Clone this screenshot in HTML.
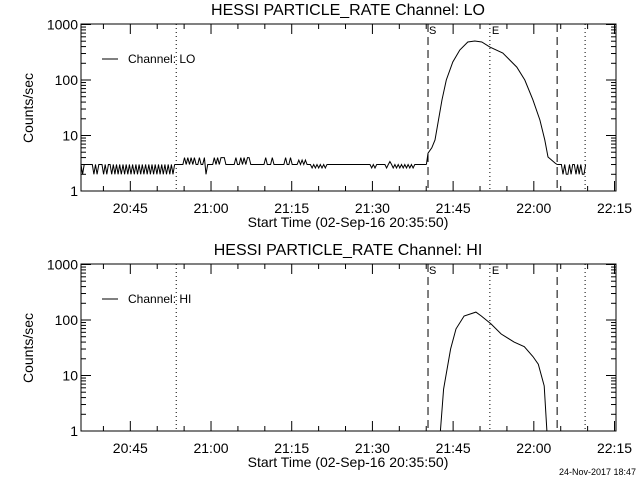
<!DOCTYPE html>
<html><head><meta charset="utf-8"><style>
body{margin:0;background:#fff}
svg text{font-family:"Liberation Sans",sans-serif;fill:#000}
</style></head><body>
<svg id="c" width="640" height="480" xmlns="http://www.w3.org/2000/svg"></svg>
<script>
// time in minutes since 20:35:50
const xTickLabels=["20:45","21:00","21:15","21:30","21:45","22:00","22:15"];
const xTickMinutes=[9.167,24.167,39.167,54.167,69.167,84.167,99.167];
const yTickValues=[1,10,100,1000];
const yTickLabels=["1","10","100","1000"];
const markerDotted=[17.7,76.0,93.7];
const markerDashed=[64.5,88.5];
const bgStep=0.3;
const loBg1=[3,2,3,3,3,3,3,3,2,3,2,3,3,3,2,3,2,3,3,2,3,2,3,2,3,2,3,2,3,2,3,2,3,2,3,2,3,2,3,2,3,2,3,2,3,2,3,2,3,2,3,2,3,2,3,2,3,2,3];
const loBg2=[3,3,3,3,3,4,3,4,3,4,3,4,3,3,4,3,3,4,2,3,3,3,3,4,3,4,3,4,4,4,3,3,3,3,3,3,4,3,3,4,3,4,3,4,4,3,3,3,3,3,3,3,3,3,4,3,3,3,4,3,3,3,3,3,
3,3,4,3,3,4,3,3,3,3,3.6,3,3.6,3,3.6,3,3,3,2.6,3,2.6,3,2.6,3,2.6,3,2.6,3,3,3,3,3,3,3,3,3,3,3,3,3,3,3,3,3,3,3,3,3,3,3,3,3,
3,3,2.6,3,2.6,3,3,3,3,3,3,2.6,3,3.4,3,2.6,3,2.6,3,2.6,3,2.6,3,2.6,3,2.6,3,2.6,3,3,3,3,3,3,3,3];
const loBg2Start=17.7;
const loFlareT=[64.5,65.2,65.8,67.1,67.9,69.1,70.4,71.9,73.2,74.5,76.0,78.4,81.0,82.5,84.0,85.3,86.2,86.8,88.1,88.5];
const loFlareV=[4.8,6.0,8.3,44,100,211,347,484,505,484,391,307,171,100,44,19,8.3,4.1,3.2,3];
const loBg3Start=88.7;
const loBg3=[3,3,3,2,3,2,2,3,2,3,3,2,3,2,3,2,2,3];
const hiFlareT=[66.8,67.4,68.7,69.7,71.2,73.4,74.4,76.2,78.1,80.5,82.4,84.0,85.0,86.1,86.6];
const hiFlareV=[1,5.7,30,69,118,139,118,85,56,40,33,22,16,6.5,1];

const svg=document.getElementById('c');
const NS='http://www.w3.org/2000/svg';
const X0=81,X1=616,PPM=5.38,DEC=55.5;
function sx(t){return X0+t*PPM;}
function mk(tag,attrs,name){const e=document.createElementNS(NS,tag);for(const k in attrs)e.setAttribute(k,attrs[k]);


svg.appendChild(e);return e;}
function txt(x,y,s,name,anchor,size,rot){const e=mk('text',{x:x,y:y,'font-size':size||13,'text-anchor':anchor||'start'},name);if(rot)e.setAttribute('transform',rot);e.textContent=s;return e;}

function panel(top,ch,series,pfx){
  const bot=top+167;
  const sy=v=>bot-Math.log10(v)*DEC;
  txt(348,top-9,'HESSI PARTICLE_RATE Channel: '+ch,pfx+'-title','middle',16);
  mk('rect',{x:X0,y:top,width:X1-X0,height:bot-top,fill:'none',stroke:'#000','stroke-width':1},pfx+'-plot-frame');
  yTickValues.forEach((v,i)=>{const y=sy(v);
    mk('line',{x1:X0,y1:y,x2:X0+10,y2:y,stroke:'#000'},pfx+'-y-tick');
    mk('line',{x1:X1-10,y1:y,x2:X1,y2:y,stroke:'#000'},pfx+'-y-tick-right');
    txt(X0-3,y+5,yTickLabels[i],pfx+'-y-tick-label','end',14);
    if(i<yTickValues.length-1)for(let m=2;m<10;m++){const ym=sy(v*m);
      mk('line',{x1:X0,y1:ym,x2:X0+5,y2:ym,stroke:'#000'},pfx+'-y-minor-tick');
      mk('line',{x1:X1-5,y1:ym,x2:X1,y2:ym,stroke:'#000'},pfx+'-y-minor-tick-right');}
  });
  for(let t=4.167;t<100;t+=5){const x=sx(t);if(x>X1)break;
    const major=xTickMinutes.some(m=>Math.abs(m-t)<0.1);const L=major?10:5;
    mk('line',{x1:x,y1:bot,x2:x,y2:bot-L,stroke:'#000'},pfx+'-x-tick');
    mk('line',{x1:x,y1:top,x2:x,y2:top+L,stroke:'#000'},pfx+'-x-tick-top');}
  xTickMinutes.forEach((t,i)=>txt(sx(t),bot+22,xTickLabels[i],pfx+'-x-tick-label','middle',14));
  txt(348,bot+36,'Start Time (02-Sep-16 20:35:50)',pfx+'-x-axis-title','middle',14);
  txt(0,0,'Counts/sec',pfx+'-y-axis-title','middle',14,'translate(33,'+(top+84)+') rotate(-90)');
  markerDotted.forEach(t=>mk('line',{x1:sx(t),y1:top,x2:sx(t),y2:bot,stroke:'#000','stroke-dasharray':'1,3'},pfx+'-dotted-marker'));
  markerDashed.forEach(t=>mk('line',{x1:sx(t),y1:top,x2:sx(t),y2:bot,stroke:'#000','stroke-dasharray':'8,5'},pfx+'-dashed-marker'));
  txt(sx(markerDashed[0])+1,top+10,'S',pfx+'-start-label','start',11);
  txt(sx(markerDotted[1])+2,top+10,'E',pfx+'-end-label','start',11);
  mk('line',{x1:102,y1:top+35,x2:118,y2:top+35,stroke:'#000'},pfx+'-legend-line');
  txt(128,top+39,'Channel: '+ch,pfx+'-legend-label','start',12);
  series.forEach(s=>{const pts=s.t.map((t,i)=>sx(t).toFixed(1)+','+Math.min(bot,sy(s.v[i])).toFixed(1)).join(' ');
    mk('polyline',{points:pts,fill:'none',stroke:'#000','stroke-width':1},pfx+'-rate-line');});
}
const idx=(a,s,step)=>a.map((_,i)=>s+i*step);
const bg2Step=(loFlareT[0]-loBg2Start)/loBg2.length;
panel(24,'LO',[
  {t:idx(loBg1,0,bgStep),v:loBg1},
  {t:[...idx(loBg1,0,bgStep).slice(-1),...idx(loBg2,loBg2Start,bg2Step)],v:[...loBg1.slice(-1),...loBg2]},
  {t:[...idx(loBg2,loBg2Start,bg2Step).slice(-1),...loFlareT],v:[...loBg2.slice(-1),...loFlareV]},
  {t:[...loFlareT.slice(-1),...idx(loBg3,loBg3Start,bgStep)],v:[...loFlareV.slice(-1),...loBg3]}
],'lo');
panel(264,'HI',[{t:hiFlareT,v:hiFlareV}],'hi');
txt(636,475,'24-Nov-2017 18:47','date-stamp','end',9);
</script>
</body></html>
